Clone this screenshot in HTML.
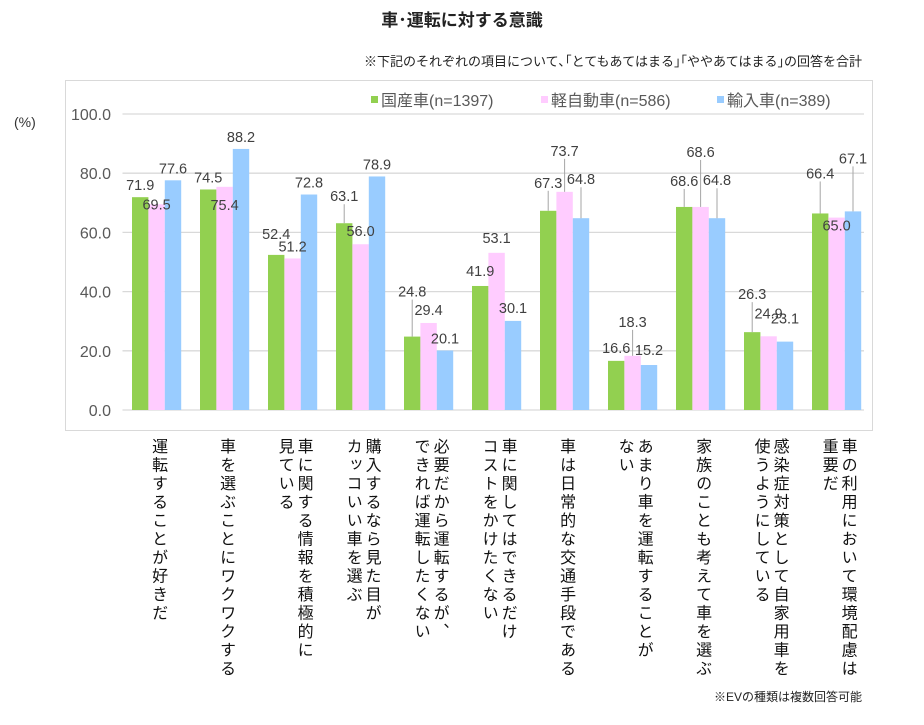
<!DOCTYPE html>
<html><head><meta charset="utf-8">
<style>
body{margin:0;background:#fff;width:924px;height:720px;overflow:hidden;font-family:"Liberation Sans","Noto Sans CJK JP",sans-serif;}
svg text{font-family:"Liberation Sans","Noto Sans CJK JP",sans-serif;}
</style></head>
<body>
<svg id="chart" width="924" height="720" xmlns="http://www.w3.org/2000/svg">
<text x="462" y="26" text-anchor="middle" font-size="17" font-weight="bold" fill="#222">車･運転に対する意識</text>
<text x="862" y="66" text-anchor="end" font-size="13" fill="#222">※下記のそれぞれの項目について､｢とてもあてはまる｣｢ややあてはまる｣の回答を合計</text>
<rect x="65.5" y="80.5" width="807" height="350" fill="none" stroke="#d9d9d9"/>
<text x="14" y="127" font-size="14" fill="#333">(%)</text>
<g id="legend" font-size="16" fill="#595959">
<rect x="371" y="96" width="7" height="7" fill="#92d050"/>
<text x="381" y="106">国産車(n=1397)</text>
<rect x="541" y="96" width="7" height="7" fill="#ffccff"/>
<text x="551" y="106">軽自動車(n=586)</text>
<rect x="717" y="96" width="7" height="7" fill="#99ccff"/>
<text x="727" y="106">輸入車(n=389)</text>
</g>
<g id="grid"></g><g id="bars"></g><g id="labels"></g><g id="cats"></g>
<text x="862" y="701" text-anchor="end" font-size="12" fill="#222">※EVの種類は複数回答可能</text>
</svg>
<script>
const categories=[
["運転することが好きだ"],
["車を選ぶことにワクワクする"],
["車に関する情報を積極的に","見ている"],
["購入するなら見た目が","カッコいい車を選ぶ"],
["必要だから運転するが、","できれば運転したくない"],
["車に関してはできるだけ","コストをかけたくない"],
["車は日常的な交通手段である"],
["あまり車を運転することが","ない"],
["家族のことも考えて車を選ぶ"],
["感染症対策として自家用車を","使うようにしている"],
["車の利用において環境配慮は","重要だ"]];
const domestic=[71.9,74.5,52.4,63.1,24.8,41.9,67.3,16.6,68.6,26.3,66.4];
const kei=[69.5,75.4,51.2,56.0,29.4,53.1,73.7,18.3,68.6,24.9,65.0];
const imported=[77.6,88.2,72.8,78.9,20.1,30.1,64.8,15.2,64.8,23.1,67.1];
const yTicks=[0,20,40,60,80,100];
const yTickLabels=["0.0","20.0","40.0","60.0","80.0","100.0"];
// label vertical offsets (styling, px relative to bar top)
const dyDomestic=[-7,-7,-16,-22,-40,-10,-23,-8,-21,-33,-35];
const dyKei=[5,23,-7,-8,-8,-10,-36,-29,-50,-18,13];
const dyImport=[-7,-7,-7,-7,-7,-8,-34,-10,-33,-18,-48];

const NS="http://www.w3.org/2000/svg";
const x0=122.5, pitch=68, barW=16.4, gOff=9.5;
const yBase=410, yScale=2.96;
function y(v){return yBase-v*yScale;}
function mk(t,a,p){const e=document.createElementNS(NS,t);for(const k in a)e.setAttribute(k,a[k]);p.appendChild(e);return e;}
const grid=document.getElementById('grid'),bars=document.getElementById('bars'),labels=document.getElementById('labels'),cats=document.getElementById('cats');
yTicks.forEach((t,i)=>{
 const l=mk('line',{x1:x0,x2:864,y1:y(t),y2:y(t),stroke:'#d9d9d9','stroke-width':1.3},grid);
 
 
 const tx=mk('text',{x:111,y:y(t)+6,'text-anchor':'end','font-size':16,fill:'#595959'},grid);
 
 
 tx.textContent=yTickLabels[i];
});
const series=[[domestic,'#92d050',dyDomestic,'domestic'],[kei,'#ffccff',dyKei,'kei'],[imported,'#99ccff',dyImport,'import']];
categories.forEach((c,i)=>{
 series.forEach((s,j)=>{
  const v=s[0][i];
  const bx=x0+i*pitch+gOff+j*barW;
  const r=mk('rect',{x:bx,y:y(v),width:barW,height:v*yScale,fill:s[1]},bars);
  
  
  const cx=bx+barW/2, dy=s[2][i], ly=y(v)+dy;
  if(dy<-18){
   const ln=mk('line',{x1:cx,x2:cx,y1:ly+3,y2:y(v),stroke:'#a6a6a6','stroke-width':1},labels);
   
   
  }
  const t=mk('text',{x:cx,y:ly,'text-anchor':'middle','font-size':14.5,fill:'#404040'},labels);
  
  
  t.textContent=v.toFixed(1);
 });
 const gc=x0+i*pitch+gOff+barW*1.5+1;
 const n=c.length;
 c.forEach((line,k)=>{
  const lx=gc+((n-1)/2-k)*19;
  const t=mk('text',{x:lx,y:438,'font-size':16,fill:'#111'},cats);
  t.setAttribute('style','writing-mode:vertical-rl;text-orientation:upright;letter-spacing:2.5px;');
  
  
  t.textContent=line;
 });
});
</script>
</body></html>
